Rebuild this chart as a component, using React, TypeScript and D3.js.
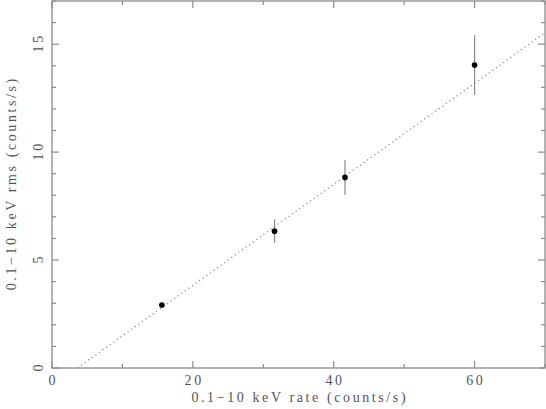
import * as d3 from 'd3';

const W = 546;
const H = 409;

const rate = [15.6, 31.6, 41.6, 60.0];
const rms = [2.92, 6.34, 8.83, 14.03];
const rmsErr = [0.12, 0.54, 0.8, 1.38];

// dotted fit line: rms = slope * rate + intercept
const fitSlope = 0.234;
const fitIntercept = -0.85;

const xMajor = [0, 20, 40, 60];
const xMinor = [10, 30, 50, 70];
const yMajor = [0, 5, 10, 15];
const yMinor = d3.range(0, 18).filter(v => v % 5 !== 0);

const margin = { top: 1, right: 1, bottom: 41, left: 52 };
const FONT = '"Liberation Serif", "DejaVu Serif", serif';
const SPACING = 2.6;
const AXIS = '#8a8a8a';
const TEXT = '#555';

export default function App() {
  const x = d3.scaleLinear().domain([0, 70]).range([margin.left, W - margin.right]);
  const y = d3.scaleLinear().domain([0, 17]).range([H - margin.bottom, margin.top]);

  const [x0, x1] = x.range();
  const [y0, y1] = y.range();

  // fit line starts where it crosses rms = 0
  const lineStart = -fitIntercept / fitSlope;
  const fit = d3.line<number>()
    .x(d => x(d))
    .y(d => y(fitSlope * d + fitIntercept));

  const MAJ = 7;
  const MIN = 4;

  return (
    <div style={{ position: 'fixed', left: 0, top: 0 }}>
      <svg
        width={W} height={H}
        style={{ fontFamily: FONT, letterSpacing: SPACING, display: 'block', background: 'white' }}
      >
        {/* frame */}
        <rect x={x0} y={y1} width={x1 - x0} height={y0 - y1} fill="none" stroke={AXIS} strokeWidth={1.3} />

        {/* x ticks, bottom and top */}
        {xMajor.map(v => (
          <g key={'xM' + v}>
            <line x1={x(v)} x2={x(v)} y1={y0} y2={y0 - MAJ} stroke={AXIS} strokeWidth={1.2} />
            <line x1={x(v)} x2={x(v)} y1={y1} y2={y1 + MAJ} stroke={AXIS} strokeWidth={1.2} />
            <text x={x(v) + SPACING / 2} y={y0 + 17} fontSize={14} fill={TEXT} textAnchor="middle">{v}</text>
          </g>
        ))}
        {xMinor.map(v => (
          <g key={'xm' + v}>
            <line x1={x(v)} x2={x(v)} y1={y0} y2={y0 - MIN} stroke={AXIS} strokeWidth={1.2} />
            <line x1={x(v)} x2={x(v)} y1={y1} y2={y1 + MIN} stroke={AXIS} strokeWidth={1.2} />
          </g>
        ))}

        {/* y ticks, left and right */}
        {yMajor.map(v => (
          <g key={'yM' + v}>
            <line x1={x0} x2={x0 + MAJ} y1={y(v)} y2={y(v)} stroke={AXIS} strokeWidth={1.2} />
            <line x1={x1} x2={x1 - MAJ} y1={y(v)} y2={y(v)} stroke={AXIS} strokeWidth={1.2} />
            <text
              transform={`translate(${x0 - 9},${y(v) - SPACING / 2}) rotate(-90)`}
              fontSize={14} fill={TEXT} textAnchor="middle"
            >
              {v}
            </text>
          </g>
        ))}
        {yMinor.map(v => (
          <g key={'ym' + v}>
            <line x1={x0} x2={x0 + MIN} y1={y(v)} y2={y(v)} stroke={AXIS} strokeWidth={1.2} />
            <line x1={x1} x2={x1 - MIN} y1={y(v)} y2={y(v)} stroke={AXIS} strokeWidth={1.2} />
          </g>
        ))}

        {/* fit */}
        <path
          d={fit([lineStart, 70]) ?? ''}
          fill="none" stroke="#888" strokeWidth={1.2} strokeDasharray="1.2,3.2"
        />

        {/* data with error bars */}
        {rate.map((r, i) => (
          <g key={i}>
            <line
              x1={x(r)} x2={x(r)}
              y1={y(rms[i] - rmsErr[i])} y2={y(rms[i] + rmsErr[i])}
              stroke="#888" strokeWidth={1.2}
            />
            <circle cx={x(r)} cy={y(rms[i])} r={2.8} fill="#000" />
          </g>
        ))}

        {/* axis titles */}
        <text x={(x0 + x1) / 2 + SPACING / 2} y={H - 7} fontSize={14} fill={TEXT} textAnchor="middle">
          0.1−10 keV rate (counts/s)
        </text>
        <text
          transform={`translate(16,${(y0 + y1) / 2 - SPACING / 2}) rotate(-90)`}
          fontSize={14} fill={TEXT} textAnchor="middle"
        >
          0.1−10 keV rms (counts/s)
        </text>
      </svg>
    </div>
  );
}
